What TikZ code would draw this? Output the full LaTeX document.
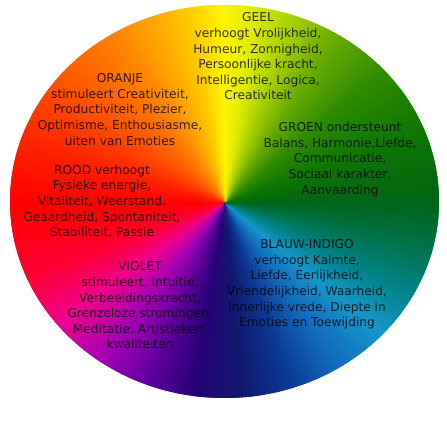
\documentclass[tikz,border=0pt]{standalone}
\usepackage{fontspec}
\setmainfont{DejaVu Sans}
\definecolor{s0}{RGB}{0,100,20}
\definecolor{s20}{RGB}{15,118,0}
\definecolor{s40}{RGB}{50,140,0}
\definecolor{s55}{RGB}{100,170,0}
\definecolor{s70}{RGB}{170,210,0}
\definecolor{s80}{RGB}{220,235,0}
\definecolor{s90}{RGB}{255,245,0}
\definecolor{s100}{RGB}{255,205,0}
\definecolor{s120}{RGB}{255,140,0}
\definecolor{s145}{RGB}{255,80,0}
\definecolor{s165}{RGB}{255,30,0}
\definecolor{s180}{RGB}{255,0,0}
\definecolor{s200}{RGB}{255,0,50}
\definecolor{s215}{RGB}{240,0,140}
\definecolor{s230}{RGB}{170,0,180}
\definecolor{s245}{RGB}{100,0,160}
\definecolor{s260}{RGB}{40,0,120}
\definecolor{s275}{RGB}{15,25,110}
\definecolor{s290}{RGB}{10,60,150}
\definecolor{s305}{RGB}{20,110,190}
\definecolor{s320}{RGB}{20,150,200}
\definecolor{s335}{RGB}{0,130,130}
\definecolor{s350}{RGB}{0,110,60}
\begin{document}
\begin{tikzpicture}[x=1bp,y=1bp,
  lbl/.style={align=center, inner sep=0pt,
    font=\fontsize{12.2bp}{15.6bp}\selectfont, text=black, text opacity=0.8}]
\useasboundingbox (0,0) rectangle (447,447);
\fill[white] (0,0) rectangle (447,447);
\coordinate (C) at (225,244);
\begin{scope}
\clip (224.5,245.5) ellipse [x radius=214.5, y radius=196.5];
\foreach \sa/\sb/\ca/\cb in {0/20/s0/s20, 20/40/s20/s40, 40/55/s40/s55,
  55/70/s55/s70, 70/80/s70/s80, 80/90/s80/s90, 90/100/s90/s100,
  100/120/s100/s120, 120/145/s120/s145, 145/165/s145/s165,
  165/180/s165/s180, 180/200/s180/s200, 200/215/s200/s215,
  215/230/s215/s230, 230/245/s230/s245, 245/260/s245/s260,
  260/275/s260/s275, 275/290/s275/s290, 290/305/s290/s305,
  305/320/s305/s320, 320/335/s320/s335, 335/350/s335/s350,
  350/360/s350/s0}{
  \pgfmathtruncatemacro\nn{\sb-\sa-1}
  \foreach \i in {0,...,\nn}{
    \pgfmathsetmacro\pct{100*\i/(\sb-\sa)}
    \pgfmathsetmacro\ang{\sa+\i}
    \colorlet{wc}{\cb!\pct!\ca}
    \fill[wc] (C) -- +(\ang:330) -- +(\ang+2.2:330) -- cycle;
  }
}
\end{scope}
\node[lbl] (geel) at (258,390.5) {GEEL\\verhoogt Vrolijkheid,\\Humeur, Zonnigheid,\\Persoonlijke kracht,\\Intelligentie, Logica,\\Creativiteit};
\node[lbl] (oranje) at (120,337.5) {ORANJE\\stimuleert Creativiteit,\\Productiviteit, Plezier,\\Optimisme, Enthousiasme,\\uiten van Emoties};
\node[lbl] (groen) at (340,287.5) {GROEN ondersteunt\\Balans, Harmonie,Liefde,\\Communicatie,\\Sociaal karakter,\\Aanvaarding};
\node[lbl] (rood) at (102,245.5) {ROOD verhoogt\\Fysieke energie,\\Vitaliteit, Weerstand,\\Geaardheid, Spontaniteit,\\Stabiliteit, Passie};
\node[lbl] (blauw) at (307,162.5) {BLAUW-INDIGO\\verhoogt Kalmte,\\Liefde, Eerlijkheid,\\Vriendelijkheid, Waarheid,\\Innerlijke vrede, Diepte in\\Emoties en Toewijding};
\node[lbl] (violet) at (140,141.5) {VIOLET\\stimuleert, Intuitie,\\Verbeeldingskracht,\\Grenzeloze stromingen,\\Meditatie, Artistieken,\\kwaliteiten};
\end{tikzpicture}
\end{document}
